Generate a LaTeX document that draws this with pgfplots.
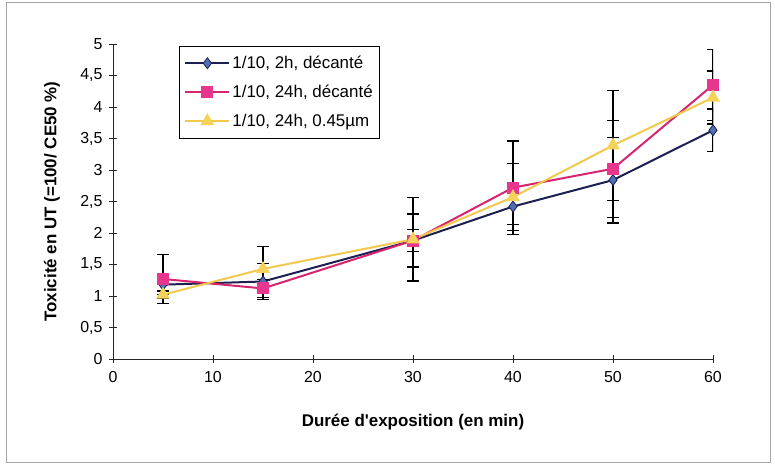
\documentclass[border=0pt]{standalone}
\usepackage{fontspec}
\setmainfont{Liberation Sans}
\usepackage{pgfplots}
\pgfplotsset{compat=1.18}
\definecolor{sOneLine}{HTML}{1C1F4F}
\definecolor{sOneFill}{HTML}{4F6FB3}
\definecolor{sTwoLine}{HTML}{D6246E}
\definecolor{sTwoFill}{HTML}{E8368F}
\definecolor{sThreeLine}{HTML}{F2C94C}
\definecolor{sThreeFill}{HTML}{F5D35A}
\begin{document}
\begin{tikzpicture}
\useasboundingbox (0bp,0bp) rectangle (775bp,466bp);
\draw[gray!70, line width=1bp] (6bp,3bp) rectangle (770bp,463bp);
\begin{axis}[
  at={(113bp,107bp)}, anchor=south west,
  width=600bp, height=315bp, scale only axis,
  xmin=0, xmax=60, ymin=0, ymax=5,
  xtick={0,10,...,60}, ytick={0,0.5,...,5},
  axis x line=bottom, axis y line=left,
  axis line style={-, black!85, line width=0.9bp},
  tick align=center, major tick length=8bp,
  tick style={black!85, line width=0.9bp},
  /pgf/number format/assume math mode=true,
  /pgf/number format/use comma, /pgf/number format/fixed,
  tick label style={font=\fontsize{16}{19}\selectfont},
  xticklabel style={yshift=-5bp},
  yticklabel style={xshift=-3bp},
  xlabel={Durée d\textquotesingle exposition (en min)},
  ylabel={Toxicité en UT (=100/ CE50 \%)},
  label style={font=\bfseries\fontsize{17}{20}\selectfont},
  xlabel style={at={(axis description cs:0.5,-0.2)}, anchor=center},
  ylabel style={at={(axis description cs:-0.102,0.5)}, anchor=center},
  legend style={at={(axis description cs:0.11,0.994)}, anchor=north west,
    draw=black, line width=0.8bp, font=\fontsize{17}{20}\selectfont,
    inner xsep=5bp, inner ysep=8bp, row sep=11bp, cells={anchor=west}},
  legend image code/.code={\draw[mark repeat=2,mark phase=2] plot coordinates {(0bp,0bp) (22bp,0bp) (44bp,0bp)};},
  error bars/y dir=both, error bars/y explicit,
  error bars/error bar style={black, solid, line width=1.3bp},
  error bars/error mark options={black, solid, rotate=90, mark size=6bp, line width=1.3bp},
]
\addplot[sOneLine, line width=2bp, mark=diamond*, mark size=5.5bp,
  mark options={fill=sOneFill, draw=sOneLine, line width=0.8bp}]
  table[x=x, y=y, y error=e] {
x y e
5 1.18 0.16
15 1.23 0.29
30 1.88 0.17
40 2.42 0.28
50 2.84 0.68
60 3.63 0.34
};
\addlegendentry{1/10, 2h, décanté}
\addplot[sTwoLine, line width=2bp, mark=square*, mark size=5bp,
  mark options={fill=sTwoFill, draw=sTwoFill}]
  table[x=x, y=y, y error=e] {
x y e
5 1.27 0.39
15 1.12 0.14
30 1.88 0.42
40 2.72 0.74
50 3.02 0.77
60 4.35 0.56
};
\addlegendentry{1/10, 24h, décanté}
\addplot[sThreeLine, line width=2bp, mark=triangle*, mark size=6bp,
  mark options={fill=sThreeFill, draw=sThreeFill}]
  table[x=x, y=y, y error=e] {
x y e
5 1.02 0.06
15 1.43 0.36
30 1.90 0.66
40 2.57 0.53
50 3.39 0.87
60 4.15 0.42
};
\addlegendentry{1/10, 24h, 0.45µm}
\end{axis}
\end{tikzpicture}
\end{document}
